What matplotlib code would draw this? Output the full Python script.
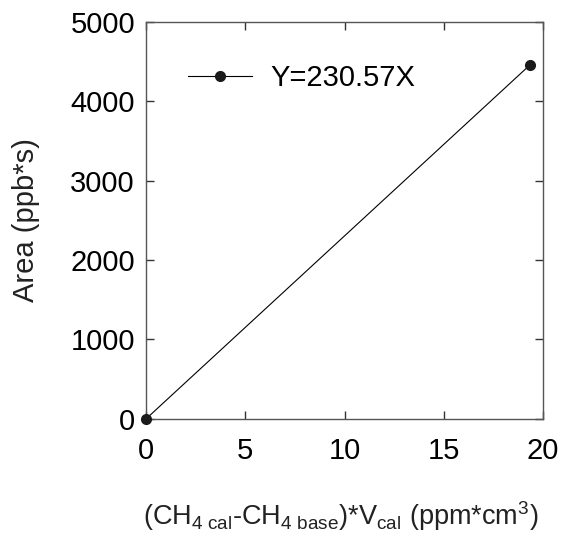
import matplotlib
matplotlib.use('Agg')
import matplotlib.pyplot as plt

plt.rcParams['font.family'] = ['Liberation Sans', 'DejaVu Sans']
plt.rcParams['mathtext.fontset'] = 'custom'
plt.rcParams['mathtext.rm'] = 'Liberation Sans'
plt.rcParams['mathtext.it'] = 'Liberation Sans'

# data
x_vals = [0, 19.34]
y_vals = [0, 4460]
fit_label = 'Y=230.57X'
x_ticks = [0, 5, 10, 15, 20]
y_ticks = [0, 1000, 2000, 3000, 4000, 5000]

fig = plt.figure(figsize=(5.64, 5.37), dpi=100)
ax = fig.add_axes([0.259, 0.220, 0.704, 0.739])

ax.plot(x_vals, y_vals, color='black', linewidth=0.8, marker='o',
        markersize=7, markerfacecolor='#1a1a1a', markeredgecolor='#1a1a1a',
        label=fit_label, clip_on=False, zorder=3)

ax.set_xlim(0, 20)
ax.set_ylim(0, 5000)
ax.set_xticks(x_ticks)
ax.set_yticks(y_ticks)
ax.tick_params(direction='in', length=6, width=1, labelsize=21,
               top=True, right=True, color='#333333')
ax.tick_params(axis='x', pad=13)
ax.tick_params(axis='y', pad=8)
for sp in ax.spines.values():
    sp.set_color('#555555')
    sp.set_linewidth(1)

ax.set_ylabel('Area (ppb*s)', fontsize=21, labelpad=22, color='#222222')
xlab = ax.set_xlabel(r'(CH$_{4\ \mathrm{cal}}$-CH$_{4\ \mathrm{base}}$)*V$_{\mathrm{cal}}$ (ppm*cm$^{3}$)',
                     fontsize=19.5, color='#222222')
ax.xaxis.set_label_coords(0.49, -0.202)
xlab.set_verticalalignment('top')

ax.legend(loc='upper left', bbox_to_anchor=(0.04, 0.96), frameon=False,
          fontsize=21, handlelength=2.2, handletextpad=0.6)

fig.savefig('out.png', dpi=100)
